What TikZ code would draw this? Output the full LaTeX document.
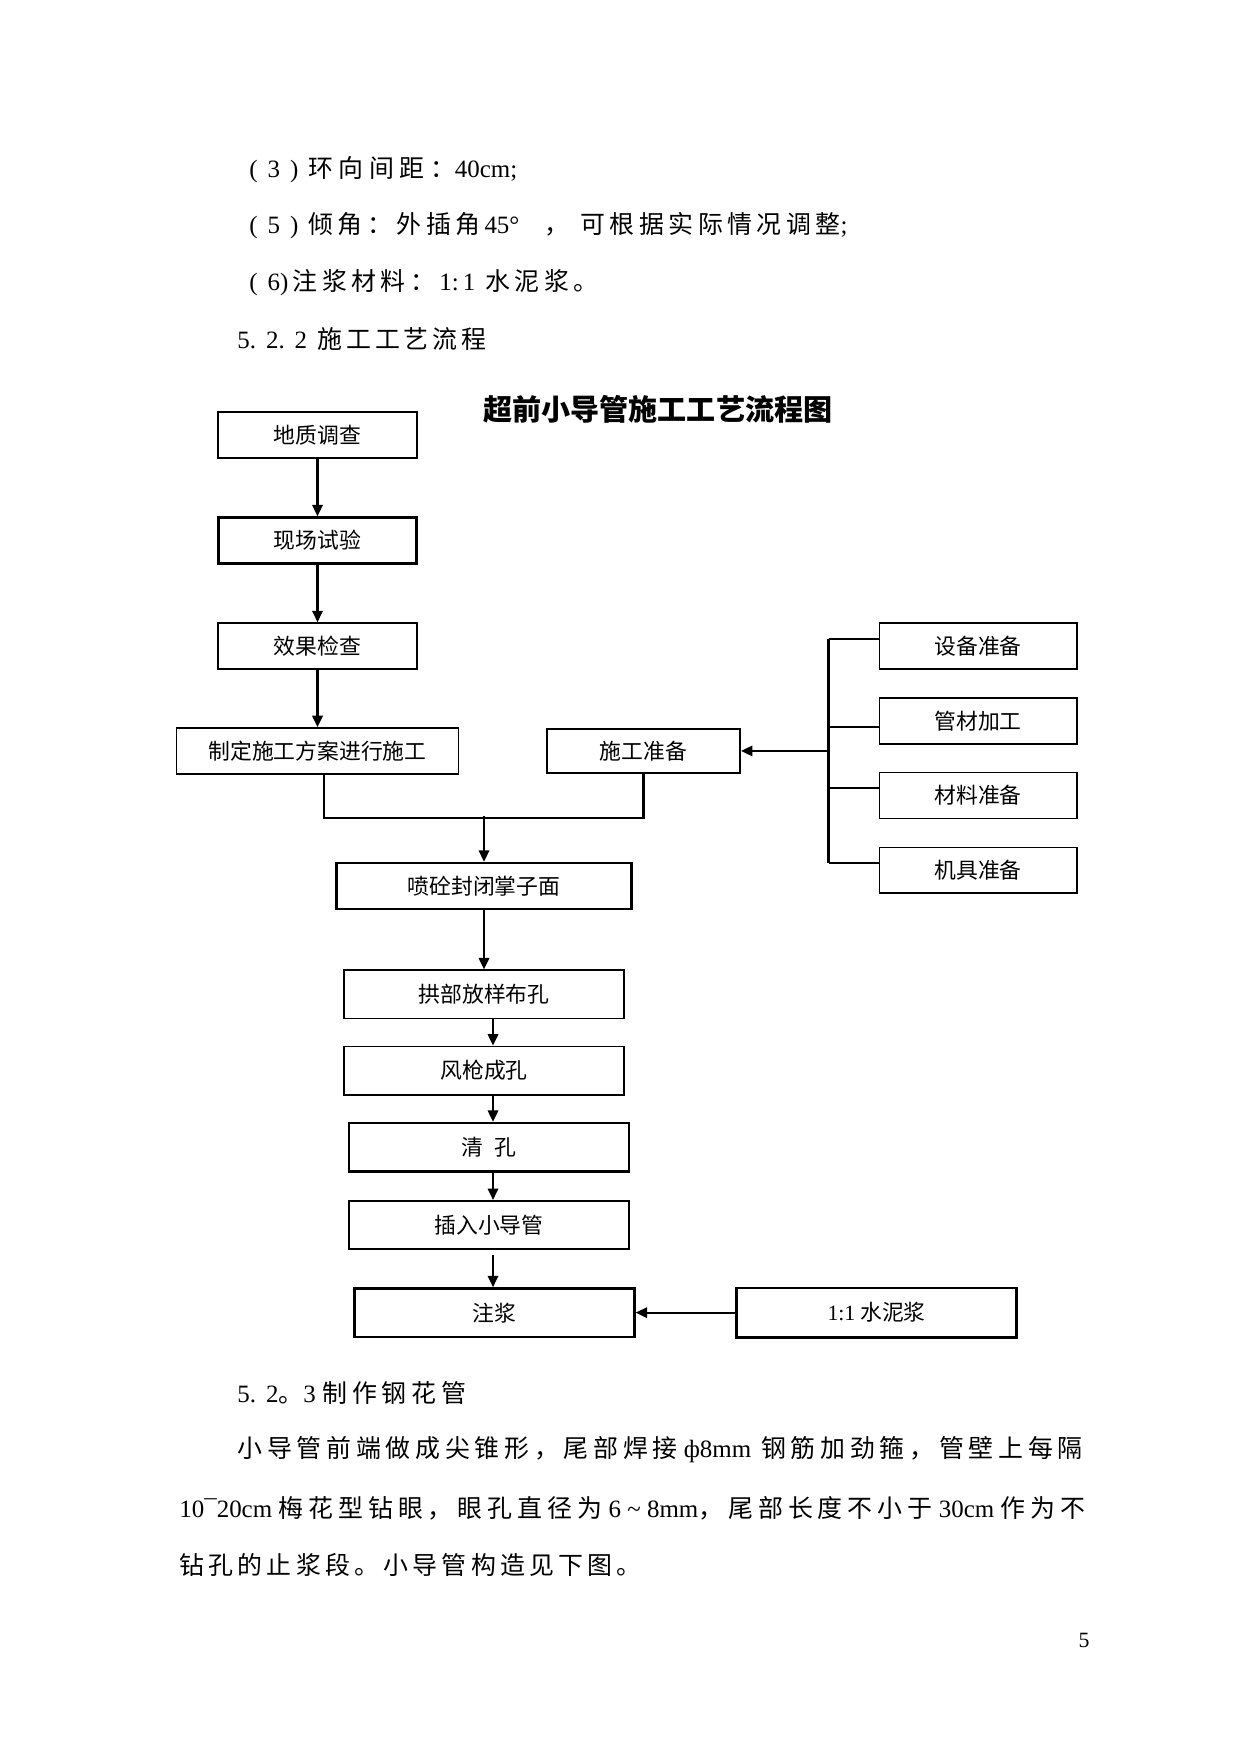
\documentclass[tikz,border=0pt]{standalone}
\usepackage{fontspec}
\setmainfont{Liberation Serif}
\newfontfamily\cjk{Noto Sans CJK SC}
\newfontfamily\cjkbody[LetterSpace=16]{Noto Sans CJK SC}
\newfontfamily\lat{Liberation Serif}
\usepackage{tikz}
\usetikzlibrary{positioning,arrows.meta,calc}

\begin{document}
\begin{tikzpicture}[x=0.1692mm,y=-0.1692mm,
  box/.style={draw, line width=0.8pt, inner sep=0pt, minimum height=22.1pt, font=\cjk\fontsize{10.5pt}{12pt}\selectfont},
  heavy/.style={line width=1.2pt},
  body/.style={anchor=west, inner sep=0pt, font=\cjkbody\fontsize{12pt}{14pt}\selectfont},
  flow/.style={->, line width=1pt},
  >={Triangle[length=5.5pt,width=5pt]}]
\useasboundingbox (0,0) rectangle (1241,1754);

\node (L1) [body] at (249,170) {\addfontfeatures{LetterSpace=22}{\lat(\hspace{.4em}3\hspace{.4em})}\hspace{.4em}环向间距：{\lat 40cm;}};
\node (L2) [body] at (249,226) {\addfontfeatures{LetterSpace=18}{\lat(\hspace{.4em}5\hspace{.4em})}\hspace{.4em}倾角：外插角{\lat\,45°}\hspace{1em}，\hspace{.45em}可根据实际情况调整{\lat ;}};
\node (L3) [body] at (249,283) {\addfontfeatures{LetterSpace=18}{\lat(\hspace{.4em}6)\,}注浆材料：{\lat\,1:\,1}\hspace{.4em}水泥浆。};
\node (L4) [body] at (237,339) {{\lat 5.\hspace{.4em}2.\hspace{.4em}2\hspace{.4em}}施工工艺流程};
\node (Title) [anchor=west, inner sep=0pt, font=\cjk\bfseries\fontsize{14pt}{16pt}\selectfont] at (483,409) {超前小导管施工工艺流程图};

\node (DZ) [box, minimum width=95.5pt] at (317.5,435) {地质调查};
\node (XC) [box, heavy, minimum width=95.5pt, below=27.7pt of DZ] {现场试验};
\node (XG) [box, minimum width=95.5pt, below=27.7pt of XC] {效果检查};
\node (ZD) [box, minimum width=135.8pt, below=27.6pt of XG] {制定施工方案进行施工};
\node (SZ) [box, minimum width=93.1pt, minimum height=21.1pt, right=41.7pt of ZD] {施工准备};

\node (SB) [box, minimum width=95pt] at (978,646) {设备准备};
\node (GC) [box, minimum width=95pt, below=13.1pt of SB] {管材加工};
\node (CL) [box, minimum width=95pt, below=13.1pt of GC] {材料准备};
\node (JJ) [box, minimum width=95pt, below=13.1pt of CL] {机具准备};

\node (PT) [box, heavy, minimum width=142pt] at (484,886) {喷砼封闭掌子面};
\node (GB) [box, minimum width=134.8pt, minimum height=23.3pt, below=28.5pt of PT] {拱部放样布孔};
\node (FQ) [box, minimum width=134.8pt, minimum height=23.3pt, below=12.6pt of GB] {风枪成孔};
\node (QK) [box, heavy, minimum width=134.8pt, minimum height=23.3pt, below=12.6pt of FQ, xshift=2.4pt] {清\enspace 孔};
\node (CR) [box, minimum width=134.8pt, minimum height=23.3pt, below=13.1pt of QK] {插入小导管};
\node (ZJ) [box, heavy, minimum width=134.8pt, minimum height=23.3pt, below=17.9pt of CR, xshift=2.6pt] {注浆};
\node (SN) [box, heavy, minimum width=134.8pt, minimum height=23.8pt, right=48pt of ZJ] {{\lat 1:1} 水泥浆};

\draw[flow] (DZ) -- (XC);
\draw[flow] (XC) -- (XG);
\draw[flow] (XG) -- (ZD);

\draw[line width=1pt] ([xshift=3.1pt]ZD.south) -- ++(0,43) -| (SZ.south);
\draw[flow] (PT.north) ++(0,-46) -- (PT.north);

\coordinate (Bus) at ([xshift=-24pt]SB.west);
\foreach \n/\d in {SB/3.4pt,GC/-3.1pt,CL/3.5pt,JJ/3.4pt}{
  \coordinate (B\n) at ([yshift=\d]\n.west);
  \draw[line width=1pt] (Bus |- B\n) -- (B\n);
}
\draw[line width=1.5pt] (Bus |- BSB) -- (Bus |- BJJ);
\draw[flow] (Bus |- SZ.east) -- (SZ.east);

\coordinate (Ax) at (493,0);
\draw[flow] (PT) -- (GB);
\draw[flow] (GB.south -| Ax) -- (FQ.north -| Ax);
\draw[flow] (FQ.south -| Ax) -- (QK.north -| Ax);
\draw[flow] (QK.south -| Ax) -- (CR.north -| Ax);
\draw[flow] (CR.south -| Ax) ++(0,5) -- (ZJ.north -| Ax);
\draw[flow] (SN) -- (ZJ);

\node (L5) [body] at (237,1393) {\addfontfeatures{LetterSpace=20}{\lat 5.\hspace{.4em}2}。{\lat 3\ }制作钢花管};
\node (P1) [body] at (237,1450) {\addfontfeatures{LetterSpace=19}小导管前端做成尖锥形，尾部焊接{\lat\ ф8mm\hspace{.4em}}钢筋加劲箍，管壁上每隔};
\node (P2) [body] at (179,1508) {\addfontfeatures{LetterSpace=20}{\lat 10¯20cm\ }梅花型钻眼，眼孔直径为{\lat\ 6 \textasciitilde\ 8mm}，尾部长度不小于{\lat\ 30cm\ }作为不};
\node (P3) [body] at (179,1565) {\addfontfeatures{LetterSpace=17}钻孔的止浆段。小导管构造见下图。};
\node (Pg) [font=\lat\fontsize{10.5pt}{12pt}\selectfont] at (1084,1640) {5};
\end{tikzpicture}
\end{document}
